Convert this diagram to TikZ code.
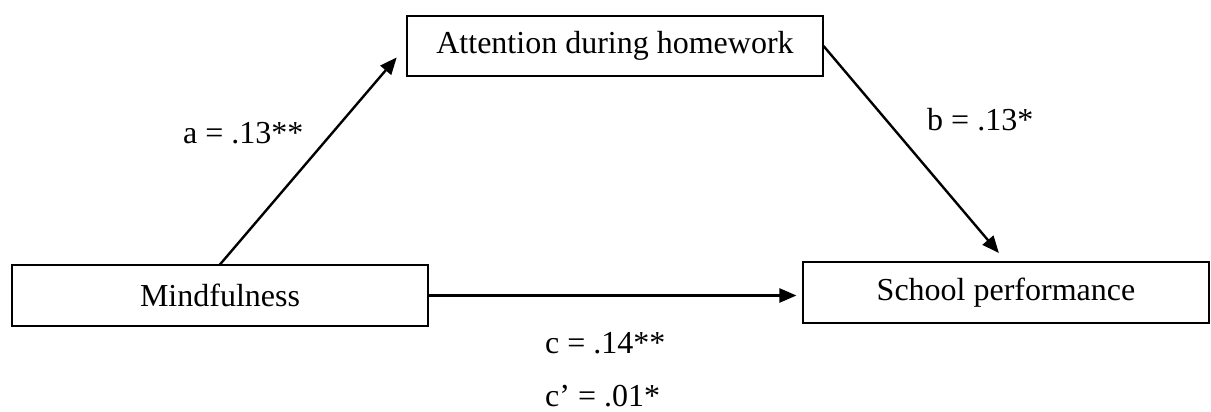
\documentclass[tikz,border=0pt]{standalone}
\usepackage{fontspec}
\setmainfont{Liberation Serif}
\usetikzlibrary{arrows.meta}
\begin{document}
\begin{tikzpicture}[x=1pt,y=-1pt,
  varbox/.style={draw=black, line width=1.1pt, inner sep=0pt, minimum height=60pt, font=\fontsize{32}{38}\selectfont},
  path/.style={line width=2.4pt, -{Triangle[length=17pt,width=14pt]}},
  coef/.style={inner sep=0pt, anchor=base west, font=\fontsize{32}{38}\selectfont}]
\useasboundingbox (0,0) rectangle (1211,412);
\node[varbox, minimum width=416pt] (attn) at (615,46) {Attention during homework};
\node[varbox, minimum width=416pt, minimum height=61pt] (mind) at (220,295.5) {Mindfulness};
\node[varbox, minimum width=406pt, minimum height=61pt] (school) at (1006,292.5) {School performance};
\draw[path, shorten >=15pt] (mind.north) -- (attn.west);
\draw[path, shorten >=11pt] (attn.east) -- (school.north);
\draw[path, shorten >=6pt] (mind.east) -- (mind.east -| school.west);
\node[coef] (la) at (183,143) {a = .13**};
\node[coef] (lb) at (927,130) {b = .13*};
\node[coef] (lc) at (545,353) {c = .14**};
\node[coef] (lc2) at (545,406.5) {c’ = .01*};
\end{tikzpicture}
\end{document}
